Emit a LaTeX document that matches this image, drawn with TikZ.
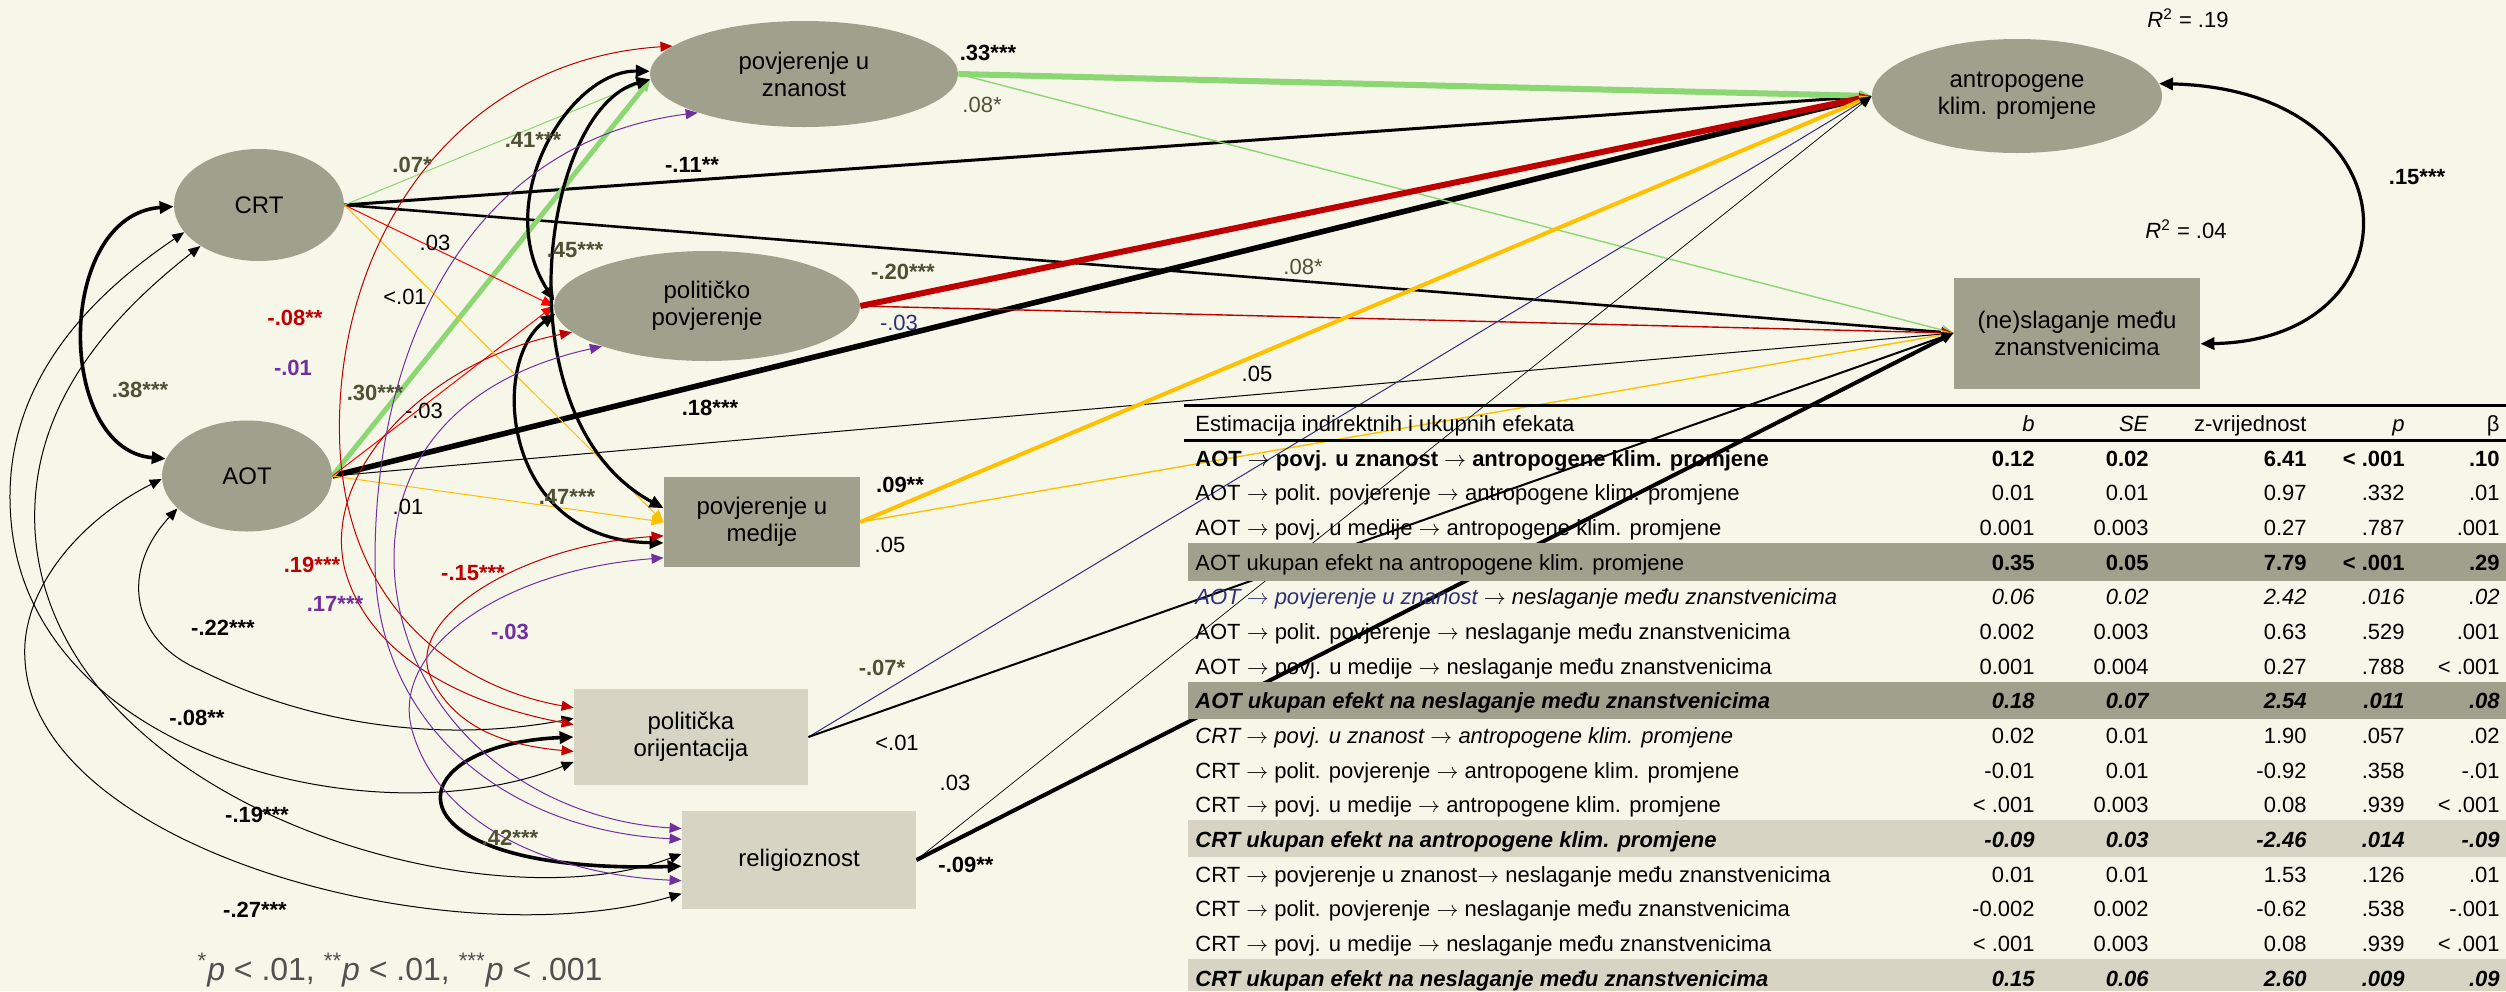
\documentclass[tikz,border=0pt]{standalone}
\usepackage{fontspec}
\setmainfont{Liberation Sans}
\usetikzlibrary{arrows.meta,shapes.geometric}

\definecolor{bgcream}{RGB}{246,246,233}
\definecolor{nodegray}{RGB}{160,161,141}
\definecolor{boxlight}{RGB}{215,212,195}
\definecolor{pathgreen}{RGB}{140,214,115}
\definecolor{pathred}{RGB}{192,0,0}
\definecolor{brightred}{RGB}{255,0,0}
\definecolor{pathorange}{RGB}{255,192,0}
\definecolor{pathpurple}{RGB}{112,48,160}
\definecolor{pathnavy}{RGB}{47,47,120}
\definecolor{olivetxt}{RGB}{78,82,52}
\definecolor{notegray}{RGB}{80,80,80}

\pgfdeclarelayer{bg}
\pgfdeclarelayer{edges}
\pgfsetlayers{bg,edges,main}

% one row of the effects table: index, format, text, b, SE, z, p, beta
\newcommand{\trow}[8]{%
  \pgfmathsetmacro{\rowy}{466+(#1-1)*34.67}
  \node[tcell, anchor=base west] (r#1t) at (1195,\rowy) {#2\relax #3};
  \node[tcell, anchor=base east] (r#1b) at (2035,\rowy) {#2\relax #4};
  \node[tcell, anchor=base east] (r#1s) at (2149,\rowy) {#2\relax #5};
  \node[tcell, anchor=base east] (r#1z) at (2307,\rowy) {#2\relax #6};
  \node[tcell, anchor=base east] (r#1p) at (2405,\rowy) {#2\relax #7};
  \node[tcell, anchor=base east] (r#1e) at (2500,\rowy) {#2\relax #8};
}

\begin{document}
\begin{tikzpicture}[x=0.5pt, y=-0.5pt,
    latent/.style={ellipse, fill=nodegray, inner sep=0pt, align=center, font=\fontsize{12}{13.5}\selectfont},
    observed/.style={rectangle, fill=nodegray, inner sep=0pt, align=center, font=\fontsize{12}{13.5}\selectfont},
    covariate/.style={rectangle, fill=boxlight, inner sep=0pt, align=center, font=\fontsize{12}{13.5}\selectfont},
    pth/.style={-{Triangle[length=6pt,width=5pt]}, line width=0.5pt},
    covthin/.style={{Triangle[length=6pt,width=5pt]}-{Triangle[length=6pt,width=5pt]}, line width=0.5pt},
    covthick/.style={{Triangle[length=7pt,width=6pt]}-{Triangle[length=7pt,width=6pt]}, line width=1.6pt},
    lbl/.style={font=\fontsize{11}{12}\selectfont\bfseries, inner sep=0pt},
    lbln/.style={font=\fontsize{11}{12}\selectfont, inner sep=0pt},
    tcell/.style={font=\fontsize{11}{12}\selectfont, inner sep=0pt}]

\begin{pgfonlayer}{bg}
  \fill[bgcream] (0,0) rectangle (2506,991);
\end{pgfonlayer}
\useasboundingbox (0,0) rectangle (2506,991);

% variables
\node[latent, minimum width=85pt, minimum height=56pt] (crt) at (259,205) {CRT};
\node[latent, minimum width=85pt, minimum height=55.5pt] (aot) at (247,476) {AOT};
\node[latent, minimum width=154pt, minimum height=53pt] (zn) at (804,74) {povjerenje u\\znanost};
\node[latent, minimum width=153pt, minimum height=55pt] (pp) at (707,306) {političko\\povjerenje};
\node[observed, minimum width=98pt, minimum height=45pt] (med) at (762,522) {povjerenje u\\medije};
\node[covariate, minimum width=117pt, minimum height=48pt] (po) at (691,737) {politička\\orijentacija};
\node[covariate, minimum width=117pt, minimum height=49pt] (rel) at (799,860) {religioznost};
\node[latent, minimum width=145pt, minimum height=57pt] (ant) at (2017,96) {antropogene\\klim. promjene};
\node[observed, minimum width=123pt, minimum height=55.5pt] (nes) at (2077,333) {(ne)slaganje među\\znanstvenicima};

\begin{pgfonlayer}{edges}
  % paths to the two outcomes
  \draw[pth, line width=1.5pt] (crt.east) -- (ant.west);
  \draw[pth, line width=1.3pt] (crt.east) -- (nes.west);
  \draw[pth, line width=2.8pt] (aot.east) -- (ant.west);
  \draw[pth] (aot.east) -- (nes.west);
  \draw[pth, pathgreen, line width=3pt] (zn.east) -- (ant.west);
  \draw[pth, pathgreen, line width=0.7pt] (zn.east) -- (nes.west);
  \draw[pth, pathred, line width=3pt] (pp.east) -- (ant.west);
  \draw[pth, pathred, line width=0.7pt] (pp.east) -- (nes.west);
  \draw[pth, pathorange, line width=2pt] (med.east) -- (ant.west);
  \draw[pth, pathorange, line width=0.7pt] (med.east) -- (nes.west);
  \draw[pth, pathnavy] (po.east) -- (ant.west);
  \draw[pth, line width=1pt] (po.east) -- (nes.west);
  \draw[pth, line width=0.35pt] (rel.east) -- (ant.west);
  \draw[pth, line width=2pt] (rel.east) -- (nes.west);
  % paths to the mediators
  \draw[pth, pathgreen] (crt.east) -- (zn.182);
  \draw[pth, pathgreen, line width=2.5pt] (aot.east) -- (zn.182);
  \draw[pth, brightred] (crt.east) -- (pp.west);
  \draw[pth, brightred] (aot.east) -- (pp.west);
  \draw[pth, pathorange] (crt.east) -- (med.west);
  \draw[pth, pathorange] (aot.east) -- (med.west);
  % covariances
  \draw[covthick, line width=1.8pt] (crt.181) .. controls (55,215) and (55,450) .. (aot.168);
  \draw[covthin] (crt.200) .. controls (40,330) and (0,430) .. (12,530) .. controls (40,760) and (380,840) .. (po.192);
  \draw[covthin] (crt.215) .. controls (80,340) and (30,430) .. (35,530) .. controls (50,800) and (480,930) .. (rel.177);
  \draw[covthin] (aot.182) .. controls (80,520) and (20,590) .. (25,660) .. controls (35,850) and (450,960) .. (rel.196);
  \draw[covthin] (aot.205) .. controls (120,570) and (130,640) .. (200,670) .. controls (300,720) and (430,745) .. (po.171);
  \draw[covthick] (zn.179) .. controls (570,70) and (490,200) .. (pp.178);
  \draw[covthick] (zn.182) .. controls (540,110) and (500,420) .. (med.172);
  \draw[covthick] (pp.183) .. controls (490,360) and (500,540) .. (med.192);
  \draw[covthick, line width=1.8pt] (po.west) .. controls (390,745) and (380,875) .. (rel.183);
  \draw[covthick] (ant.5) .. controls (2420,90) and (2420,340) .. (nes.-5);
  \draw[covthin, pathred] (zn.168) .. controls (450,60) and (330,250) .. (340,450) .. controls (350,620) and (470,690) .. (po.166);
  \draw[covthin, pathred] (pp.191) .. controls (430,360) and (320,470) .. (345,570) .. controls (370,660) and (470,705) .. (po.174);
  \draw[covthin, pathred] (med.188) .. controls (520,545) and (400,620) .. (432,680) .. controls (455,725) and (500,745) .. (po.187);
  \draw[covthin, pathpurple] (zn.200) .. controls (480,140) and (375,330) .. (375,560) .. controls (375,720) and (500,830) .. (rel.170);
  \draw[covthin, pathpurple] (pp.201) .. controls (450,380) and (385,470) .. (395,580) .. controls (410,730) and (540,820) .. (rel.165);
  \draw[covthin, pathpurple] (med.200) .. controls (500,570) and (390,650) .. (412,730) .. controls (440,830) and (560,875) .. (rel.190);
\end{pgfonlayer}

% coefficients
\node[lbl, text=olivetxt] (lCrtZn) at (412,165) {.07*};
\node[lbl, text=olivetxt] (lZnPp) at (533,140) {.41***};
\node[lbl] (lCrtAnt) at (692,165) {-.11**};
\node[lbl] (lZnAnt) at (988,53) {.33***};
\node[lbln, text=olivetxt] (lZnNes) at (982,105) {.08*};
\node[lbln] (lCrtPp) at (435,243) {.03};
\node[lbln] (lCrtMed) at (405,297) {<.01};
\node[lbl, text=olivetxt] (lZnMed) at (575,250) {.45***};
\node[lbl, text=olivetxt] (lPpAnt) at (903,272) {-.20***};
\node[lbln, text=pathnavy] (lPpNes) at (899,323) {-.03};
\node[lbln, text=olivetxt] (lCrtNes) at (1303,267) {.08*};
\node[lbl, text=pathred] (lPoPp) at (295,318) {-.08**};
\node[lbl, text=pathpurple] (lRelPp) at (293,368) {-.01};
\node[lbl, text=olivetxt] (lCrtAot) at (140,390) {.38***};
\node[lbl, text=olivetxt] (lAotZn) at (375,393) {.30***};
\node[lbln] (lAotPp) at (424,411) {-.03};
\node[lbl] (lAotAnt) at (710,408) {.18***};
\node[lbln] (lAotNes) at (1257,374) {.05};
\node[lbln] (lAotMed) at (408,507) {.01};
\node[lbl, text=olivetxt] (lPpMed) at (567,497) {.47***};
\node[lbl] (lMedAnt) at (900,485) {.09**};
\node[lbln] (lMedNes) at (890,545) {.05};
\node[lbl, text=pathred] (lPoZn) at (312,565) {.19***};
\node[lbl, text=pathred] (lPoMed) at (473,573) {-.15***};
\node[lbl, text=pathpurple] (lRelZn) at (335,604) {.17***};
\node[lbl] (lAotPo) at (223,628) {-.22***};
\node[lbl, text=pathpurple] (lRelMed) at (510,632) {-.03};
\node[lbl, text=olivetxt] (lPoAnt) at (882,668) {-.07*};
\node[lbl] (lCrtPo) at (197,718) {-.08**};
\node[lbln] (lPoNes) at (897,743) {<.01};
\node[lbln] (lRelAnt) at (955,783) {.03};
\node[lbl] (lCrtRel) at (257,815) {-.19***};
\node[lbl, text=olivetxt] (lPoRel) at (510,838) {.42***};
\node[lbl] (lRelNes) at (966,865) {-.09**};
\node[lbl] (lAotRel) at (255,910) {-.27***};
\node[lbl] (lAntNes) at (2417,177) {.15***};
\node[lbln] (r2Ant) at (2188,18) {\textit{R}\textsuperscript{2} = .19};
\node[lbln] (r2Nes) at (2186,229) {\textit{R}\textsuperscript{2} = .04};
\node[font=\fontsize{16}{18}\selectfont, text=notegray] (note) at (400,970)
  {\textsuperscript{*}\textit{p} < .01, \textsuperscript{**}\textit{p} < .01, \textsuperscript{***}\textit{p} < .001};

% table of indirect and total effects
\fill[nodegray] (1188,543) rectangle (2506,581);
\fill[nodegray] (1188,682) rectangle (2506,719);
\fill[boxlight] (1188,820) rectangle (2506,857);
\fill[boxlight] (1188,959) rectangle (2506,991);
\draw[line width=1.5pt] (1184,405) -- (2506,405);
\draw[line width=1.5pt] (1184,440) -- (2506,440);
\node[tcell, anchor=base west] (hdt) at (1195,431) {Estimacija indirektnih i ukupnih efekata};
\node[tcell, anchor=base east] (hdb) at (2035,431) {\textit{b}};
\node[tcell, anchor=base east] (hds) at (2149,431) {\textit{SE}};
\node[tcell, anchor=base east] (hdz) at (2307,431) {z-vrijednost};
\node[tcell, anchor=base east] (hdp) at (2405,431) {\textit{p}};
\node[tcell, anchor=base east] (hde) at (2500,431) {β};
\trow{1}{\bfseries}{AOT $\rightarrow$ povj. u znanost $\rightarrow$ antropogene klim. promjene}{0.12}{0.02}{6.41}{< .001}{.10}
\trow{2}{}{AOT $\rightarrow$ polit. povjerenje $\rightarrow$ antropogene klim. promjene}{0.01}{0.01}{0.97}{.332}{.01}
\trow{3}{}{AOT $\rightarrow$ povj. u medije $\rightarrow$ antropogene klim. promjene}{0.001}{0.003}{0.27}{.787}{.001}
\trow{4}{\bfseries}{{\mdseries AOT ukupan efekt na antropogene klim. promjene}}{0.35}{0.05}{7.79}{< .001}{.29}
\trow{5}{\itshape}{{\color{pathnavy}AOT $\rightarrow$ povjerenje u znanost} $\rightarrow$ neslaganje među znanstvenicima}{0.06}{0.02}{2.42}{.016}{.02}
\trow{6}{}{AOT $\rightarrow$ polit. povjerenje $\rightarrow$ neslaganje među znanstvenicima}{0.002}{0.003}{0.63}{.529}{.001}
\trow{7}{}{AOT $\rightarrow$ povj. u medije $\rightarrow$ neslaganje među znanstvenicima}{0.001}{0.004}{0.27}{.788}{< .001}
\trow{8}{\bfseries\itshape}{AOT ukupan efekt na neslaganje među znanstvenicima}{0.18}{0.07}{2.54}{.011}{.08}
\trow{9}{}{{\itshape CRT $\rightarrow$ povj. u znanost $\rightarrow$ antropogene klim. promjene}}{0.02}{0.01}{1.90}{.057}{.02}
\trow{10}{}{CRT $\rightarrow$ polit. povjerenje $\rightarrow$ antropogene klim. promjene}{-0.01}{0.01}{-0.92}{.358}{-.01}
\trow{11}{}{CRT $\rightarrow$ povj. u medije $\rightarrow$ antropogene klim. promjene}{< .001}{0.003}{0.08}{.939}{< .001}
\trow{12}{\bfseries\itshape}{CRT ukupan efekt na antropogene klim. promjene}{-0.09}{0.03}{-2.46}{.014}{-.09}
\trow{13}{}{CRT $\rightarrow$ povjerenje u znanost$\rightarrow$ neslaganje među znanstvenicima}{0.01}{0.01}{1.53}{.126}{.01}
\trow{14}{}{CRT $\rightarrow$ polit. povjerenje $\rightarrow$ neslaganje među znanstvenicima}{-0.002}{0.002}{-0.62}{.538}{-.001}
\trow{15}{}{CRT $\rightarrow$ povj. u medije $\rightarrow$ neslaganje među znanstvenicima}{< .001}{0.003}{0.08}{.939}{< .001}
\trow{16}{\bfseries\itshape}{CRT ukupan efekt na neslaganje među znanstvenicima}{0.15}{0.06}{2.60}{.009}{.09}
\end{tikzpicture}
\end{document}
